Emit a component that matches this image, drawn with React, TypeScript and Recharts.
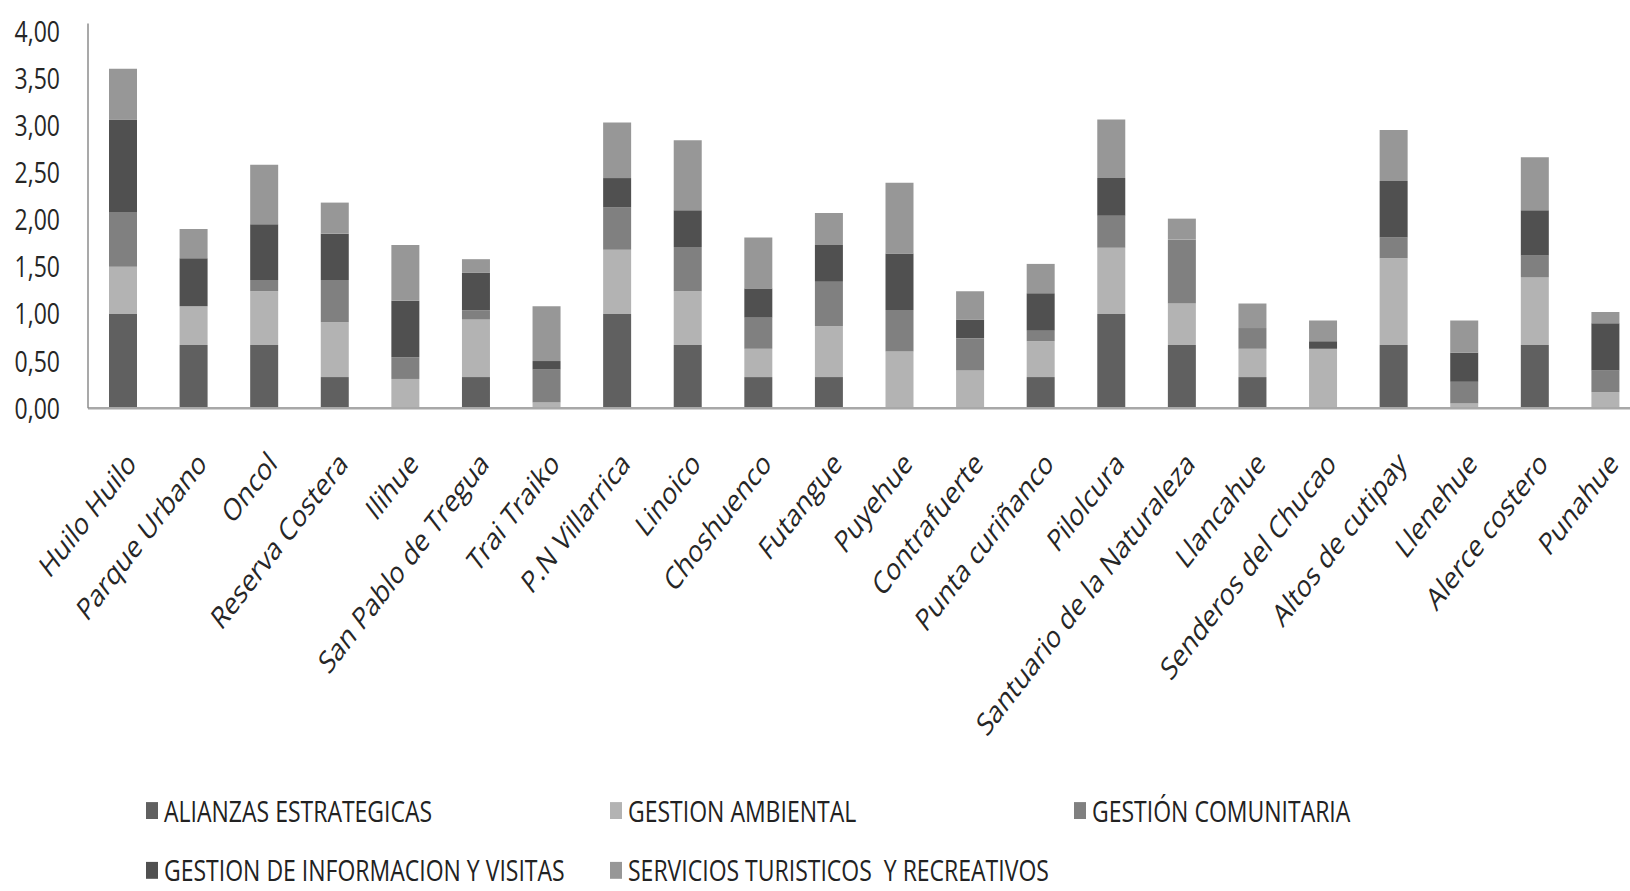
import { BarChart, Bar, XAxis, YAxis } from 'recharts';

const categories = [
  'Huilo Huilo', 'Parque Urbano', 'Oncol', 'Reserva Costera', 'Ilihue', 'San Pablo de Tregua',
  'Trai Traiko', 'P.N Villarrica', 'Linoico', 'Choshuenco', 'Futangue', 'Puyehue', 'Contrafuerte',
  'Punta curiñanco', 'Pilolcura', 'Santuario de la Naturaleza', 'Llancahue', 'Senderos del Chucao',
  'Altos de cutipay', 'Llenehue', 'Alerce costero', 'Punahue',
];

const alianzas = [1.0, 0.67, 0.67, 0.33, 0, 0.33, 0, 1.0, 0.67, 0.33, 0.33, 0, 0, 0.33, 1.0, 0.67, 0.33, 0, 0.67, 0, 0.67, 0];
const ambiental = [0.5, 0.41, 0.57, 0.58, 0.31, 0.61, 0.06, 0.68, 0.57, 0.3, 0.54, 0.6, 0.4, 0.38, 0.7, 0.44, 0.3, 0.63, 0.92, 0.05, 0.72, 0.17];
const comunitaria = [0.58, 0, 0.12, 0.45, 0.23, 0.1, 0.35, 0.45, 0.47, 0.33, 0.47, 0.44, 0.34, 0.11, 0.34, 0.68, 0.22, 0, 0.22, 0.23, 0.23, 0.23];
const informacion = [0.98, 0.51, 0.59, 0.49, 0.6, 0.4, 0.09, 0.31, 0.39, 0.31, 0.39, 0.6, 0.2, 0.4, 0.4, 0, 0, 0.08, 0.6, 0.31, 0.48, 0.5];
const servicios = [0.54, 0.31, 0.63, 0.33, 0.59, 0.14, 0.58, 0.59, 0.74, 0.54, 0.34, 0.75, 0.3, 0.31, 0.62, 0.22, 0.26, 0.22, 0.54, 0.34, 0.56, 0.12];

const seriesKeys = ['alianzas', 'ambiental', 'comunitaria', 'informacion', 'servicios'];
const seriesNames = [
  'ALIANZAS ESTRATEGICAS',
  'GESTION AMBIENTAL',
  'GESTIÓN COMUNITARIA',
  'GESTION DE INFORMACION Y VISITAS',
  'SERVICIOS TURISTICOS  Y RECREATIVOS',
];
const seriesColors = ['#606060', '#b3b3b3', '#808080', '#505050', '#979797'];
const seriesValues = [alianzas, ambiental, comunitaria, informacion, servicios];

const yTicks = [0, 0.5, 1, 1.5, 2, 2.5, 3, 3.5, 4];

const data = categories.map((name, i) => {
  const row: Record<string, string | number> = { name };
  seriesKeys.forEach((k, s) => {
    row[k] = seriesValues[s][i];
  });
  return row;
});

const font = "'Open Sans', sans-serif";

function CategoryTick({ x, y, payload }: any) {
  return (
    <g transform={`translate(${x + 2},${y + 30})`}>
      <text transform="rotate(-45)" textAnchor="end" dy="0.71em" fontSize={24} fill="#262626" fontFamily={font}>
        {payload.value}
      </text>
    </g>
  );
}

export default function App() {
  return (
    <div style={{ position: 'fixed', left: 0, top: 0, width: 1630, height: 891, overflow: 'hidden', background: '#fff' }}>
      {/* the reference is an Excel chart stretched vertically, so draw it flat and stretch */}
      <div style={{ position: 'relative', width: 1641, height: 685, transform: 'scaleY(1.3)', transformOrigin: '0 0' }}>
        <BarChart
          width={1641}
          height={685}
          data={data}
          margin={{ top: 18, right: 0, bottom: 0, left: 0 }}
          barSize={28}
        >
          <XAxis
            dataKey="name"
            interval={0}
            height={371}
            tickLine={false}
            tickSize={0}
            tick={<CategoryTick />}
            axisLine={{ stroke: '#a8a8a8', strokeWidth: 2 }}
          />
          <YAxis
            width={88}
            domain={[0, 4.08]}
            ticks={yTicks}
            tickLine={false}
            tickSize={0}
            tickMargin={28}
            axisLine={{ stroke: '#8c8c8c', strokeWidth: 1.5 }}
            tickFormatter={(v: number) => v.toFixed(2).replace('.', ',')}
            tick={{ fontSize: 23, fill: '#262626', fontFamily: font }}
          />
          {seriesKeys.map((k, s) => (
            <Bar key={k} dataKey={k} name={seriesNames[s]} stackId="a" fill={seriesColors[s]} isAnimationActive={false} />
          ))}
        </BarChart>
        {seriesNames.map((name, s) => (
          <div
            key={name}
            style={{
              position: 'absolute',
              left: 146 + (s % 3) * 464,
              top: 608 + Math.floor(s / 3) * 46,
              height: 30,
              display: 'flex',
              alignItems: 'center',
              fontFamily: font,
              fontSize: 23,
              color: '#222',
              whiteSpace: 'pre',
            }}
          >
            <span style={{ display: 'inline-block', width: 12, height: 13, background: seriesColors[s], marginRight: 6 }} />
            {name}
          </div>
        ))}
      </div>
    </div>
  );
}
